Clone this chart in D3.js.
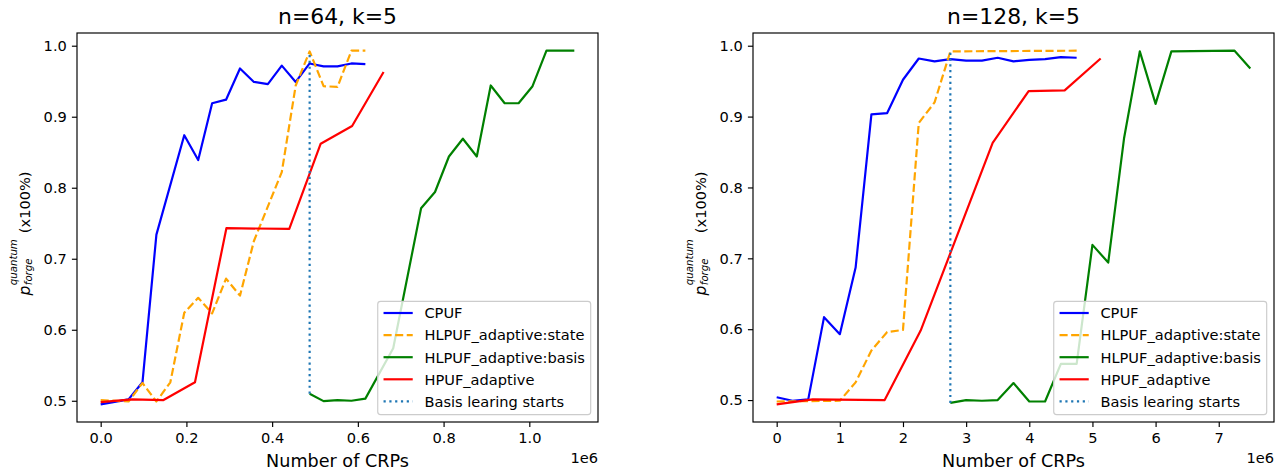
<!DOCTYPE html>
<html>
<head>
<meta charset="utf-8">
<script src="https://cdn.jsdelivr.net/npm/d3@7"></script>
<style>
  body { margin: 0; background: #fff; }
  text { font-family: "DejaVu Sans", sans-serif; fill: #000; }
</style>
</head>
<body>
<script>
/* global d3 */

// ---- data (x in units of 1e6 CRPs) ----

const titles = ['n=64, k=5', 'n=128, k=5']
const seriesNames = ['CPUF', 'HLPUF_adaptive:state', 'HLPUF_adaptive:basis', 'HPUF_adaptive', 'Basis learing starts']

const leftTicksX = [0, 0.2, 0.4, 0.6, 0.8, 1.0]
const rightTicksX = [0, 1, 2, 3, 4, 5, 6, 7]
const ticksY = [0.5, 0.6, 0.7, 0.8, 0.9, 1.0]

const leftCpufX = [0, 0.065, 0.0975, 0.13, 0.195, 0.2275, 0.26, 0.2925, 0.325, 0.3575, 0.39, 0.4225, 0.455, 0.4875, 0.52, 0.5525, 0.585, 0.6175]
const leftCpufY = [0.495, 0.502, 0.526, 0.734, 0.874, 0.839, 0.919, 0.924, 0.968, 0.949, 0.946, 0.972, 0.949, 0.975, 0.971, 0.971, 0.975, 0.974]

const leftStateX = [0, 0.065, 0.0975, 0.13, 0.1625, 0.195, 0.2275, 0.26, 0.2925, 0.325, 0.3575, 0.4225, 0.455, 0.4875, 0.52, 0.5525, 0.585, 0.6175]
const leftStateY = [0.501, 0.499, 0.525, 0.499, 0.526, 0.624, 0.645, 0.623, 0.672, 0.648, 0.725, 0.822, 0.944, 0.992, 0.943, 0.942, 0.993, 0.993]

const leftBasisX = [0.4875, 0.52, 0.5525, 0.585, 0.6175, 0.6825, 0.7475, 0.78, 0.8125, 0.845, 0.8775, 0.91, 0.9425, 0.975, 1.0075, 1.04, 1.105]
const leftBasisY = [0.51, 0.4995, 0.501, 0.5, 0.503, 0.574, 0.771, 0.794, 0.844, 0.869, 0.844, 0.944, 0.919, 0.919, 0.943, 0.993, 0.993]

const leftHpufX = [0, 0.0733, 0.1466, 0.22, 0.2933, 0.44, 0.5133, 0.5866, 0.66]
const leftHpufY = [0.498, 0.502, 0.501, 0.526, 0.743, 0.742, 0.862, 0.887, 0.963]

const leftStart = [0.4875, 0.51, 0.992]   // x, y from, y to

const rightCpufX = [0, 0.25, 0.5, 0.75, 1.0, 1.25, 1.5, 1.75, 2.0, 2.25, 2.5, 2.75, 3.0, 3.25, 3.5, 3.75, 4.0, 4.25, 4.5, 4.75]
const rightCpufY = [0.504, 0.499, 0.501, 0.617, 0.593, 0.687, 0.903, 0.905, 0.952, 0.982, 0.978, 0.981, 0.979, 0.979, 0.983, 0.978, 0.98, 0.981, 0.984, 0.983]

const rightStateX = [0, 1.0, 1.25, 1.5, 1.75, 2.0, 2.25, 2.5, 2.75, 4.75]
const rightStateY = [0.498, 0.499, 0.525, 0.57, 0.596, 0.599, 0.891, 0.92, 0.992, 0.993]

const rightBasisX = [2.75, 3.0, 3.25, 3.5, 3.75, 4.0, 4.25, 4.5, 4.75, 5.0, 5.25, 5.5, 5.75, 6.0, 6.25, 7.25, 7.5]
const rightBasisY = [0.496, 0.5, 0.499, 0.5, 0.524, 0.498, 0.498, 0.551, 0.551, 0.719, 0.694, 0.869, 0.992, 0.918, 0.992, 0.993, 0.968]

const rightHpufX = [0, 0.57, 1.71, 2.28, 3.42, 3.99, 4.56, 5.13]
const rightHpufY = [0.494, 0.501, 0.5, 0.598, 0.863, 0.936, 0.937, 0.982]

const rightStart = [2.75, 0.496, 0.992]

// ---- styles ----

const styles = [
  { color: '#0000ff', dash: null },
  { color: '#ffa500', dash: '8.1,3.5' },
  { color: '#008000', dash: null },
  { color: '#ff0000', dash: null },
  { color: '#1f77b4', dash: '2.2,3.6' }
]

const W = 1281, H = 472
const plotTop = 33, plotBottom = 422
const lw = 2.19
const fs = 14.6

const svg = d3.select('body').append('svg')
  .attr('width', W)
  .attr('height', H)

const zip = (xs, ys) => xs.map((x, i) => [x, ys[i]])

function panel (x0, x1, title, ticksX, fmt, series, start) {
  const allX = series.flatMap(s => s.map(d => d[0])).concat([start[0]])
  const allY = series.flatMap(s => s.map(d => d[1])).concat([start[1], start[2]])
  const ex = d3.extent(allX), ey = d3.extent(allY)
  const px = (ex[1] - ex[0]) * 0.05, py = (ey[1] - ey[0]) * 0.05

  const x = d3.scaleLinear().domain([ex[0] - px, ex[1] + px]).range([x0, x1])
  const y = d3.scaleLinear().domain([ey[0] - py, ey[1] + py]).range([plotBottom, plotTop])

  const g = svg.append('g')

  const line = d3.line().x(d => x(d[0])).y(d => y(d[1]))

  series.forEach((s, i) => {
    g.append('path')
      .attr('d', line(s))
      .attr('fill', 'none')
      .attr('stroke', styles[i].color)
      .attr('stroke-width', lw)
      .attr('stroke-dasharray', styles[i].dash)
      .attr('stroke-linejoin', 'round')
  })

  g.append('line')
    .attr('x1', x(start[0])).attr('x2', x(start[0]))
    .attr('y1', y(start[1])).attr('y2', y(start[2]))
    .attr('stroke', styles[4].color)
    .attr('stroke-width', lw)
    .attr('stroke-dasharray', styles[4].dash)

  // axes
  const ax = g.append('g')
    .attr('transform', `translate(0,${plotBottom})`)
    .call(d3.axisBottom(x).tickValues(ticksX).tickFormat(fmt).tickSizeOuter(0).tickSize(5.1).tickPadding(5.1))
  const ay = g.append('g')
    .attr('transform', `translate(${x0},0)`)
    .call(d3.axisLeft(y).tickValues(ticksY).tickFormat(d3.format('.1f')).tickSizeOuter(0).tickSize(5.1).tickPadding(5.1))

  ;[ax, ay].forEach(a => {
    a.select('.domain').remove()
    a.selectAll('.tick line').attr('stroke', '#000').attr('stroke-width', 1.17)
    a.selectAll('.tick text').attr('font-size', fs).attr('font-family', 'DejaVu Sans')
  })

  g.append('rect')
    .attr('x', x0).attr('y', plotTop)
    .attr('width', x1 - x0).attr('height', plotBottom - plotTop)
    .attr('fill', 'none')
    .attr('stroke', '#000')
    .attr('stroke-width', 1.17)

  g.append('text')
    .attr('x', (x0 + x1) / 2).attr('y', 24)
    .attr('text-anchor', 'middle')
    .attr('font-size', 21.9)
    .text(title)

  g.append('text')
    .attr('x', (x0 + x1) / 2).attr('y', 467)
    .attr('text-anchor', 'middle')
    .attr('font-size', 17.6)
    .text('Number of CRPs')

  g.append('text')
    .attr('x', x1).attr('y', 463)
    .attr('text-anchor', 'end')
    .attr('font-size', fs)
    .text('1e6')

  // y label: p_forge^quantum (x100%)
  const yl = g.append('g')
    .attr('transform', `translate(${x0 - 47},${(plotTop + plotBottom) / 2 + 6}) rotate(-90)`)
  const inner = yl.append('g')
  const p = inner.append('text').attr('font-size', 15.5).attr('font-style', 'italic').text('p')
  const wp = p.node().getComputedTextLength()
  const sup = inner.append('text').attr('x', wp + 0.5).attr('y', -13)
    .attr('font-size', 10.2).attr('font-style', 'italic').text('quantum')
  const sub = inner.append('text').attr('x', wp + 0.5).attr('y', 1.5)
    .attr('font-size', 10.2).attr('font-style', 'italic').text('forge')
  const ws = Math.max(sup.node().getComputedTextLength(), sub.node().getComputedTextLength())
  const rest = inner.append('text').attr('x', wp + 0.5 + ws + 6).attr('font-size', fs).text('(x100%)')
  const total = wp + 0.5 + ws + 6 + rest.node().getComputedTextLength()
  inner.attr('transform', `translate(${-total / 2},0)`)

  // legend
  const lg = g.append('g')
  const texts = seriesNames.map(n =>
    lg.append('text').attr('font-size', fs).text(n))
  const tw = d3.max(texts, t => t.node().getComputedTextLength())
  const pad = 5.8, hl = 29.2, hp = 11.7
  const bw = pad + hl + hp + tw + pad
  const bh = 113.3
  const bx = x1 - 7.3 - bw
  const by = plotBottom - 7.3 - bh

  lg.insert('rect', 'text')
    .attr('x', bx).attr('y', by)
    .attr('width', bw).attr('height', bh)
    .attr('rx', 2.9)
    .attr('fill', 'rgba(255,255,255,0.8)')
    .attr('stroke', '#cccccc')
    .attr('stroke-width', 1.17)

  texts.forEach((t, i) => {
    const cy = by + 11.6 + i * 22.1
    t.attr('x', bx + pad + hl + hp).attr('y', cy + 5.3)
    lg.append('line')
      .attr('x1', bx + pad).attr('x2', bx + pad + hl)
      .attr('y1', cy).attr('y2', cy)
      .attr('stroke', styles[i].color)
      .attr('stroke-width', lw)
      .attr('stroke-dasharray', styles[i].dash)
  })
}

panel(77, 598, titles[0], leftTicksX, d3.format('.1f'),
  [zip(leftCpufX, leftCpufY), zip(leftStateX, leftStateY), zip(leftBasisX, leftBasisY), zip(leftHpufX, leftHpufY)],
  leftStart)

panel(753, 1274, titles[1], rightTicksX, d3.format('d'),
  [zip(rightCpufX, rightCpufY), zip(rightStateX, rightStateY), zip(rightBasisX, rightBasisY), zip(rightHpufX, rightHpufY)],
  rightStart)
</script>
</body>
</html>
